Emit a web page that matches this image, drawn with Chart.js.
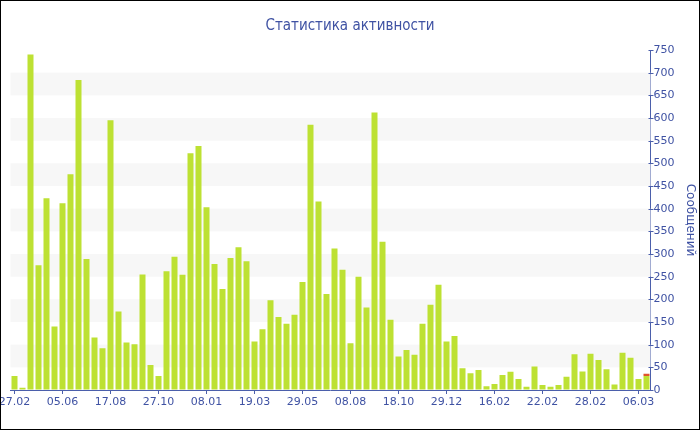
<!DOCTYPE html>
<html>
<head>
<meta charset="utf-8">
<script src="https://cdn.jsdelivr.net/npm/chart.js@4.4.1/dist/chart.umd.min.js"></script>
<style>
  html, body { margin: 0; padding: 0; background: #fff; }
  #wrap { width: 700px; height: 430px; border: 1px solid #000; box-sizing: border-box; position: relative; }
  canvas { display: block; }
</style>
</head>
<body>
<div id="wrap"><canvas id="c" width="698" height="428"></canvas></div>
<script>
// Tick labels shown every 6th category
const tickLabels = ['27.02','05.06','17.08','27.10','08.01','19.03','29.05','08.08','18.10','29.12','16.02','22.02','28.02','06.03'];
const labelEvery = 6;

// Messages per period (main series)
const messages = [
  31, 5, 740, 275, 423, 140, 412, 476, 684, 289,
  116, 92, 595, 173, 105, 101, 255, 55, 31, 262,
  294, 254, 522, 538, 403, 278, 223, 291, 315, 284,
  107, 134, 198, 161, 146, 166, 238, 585, 416, 212,
  312, 265, 103, 250, 182, 612, 327, 155, 74, 88,
  78, 146, 188, 232, 107, 119, 48, 37, 44, 8,
  13, 33, 40, 24, 7, 52, 11, 7, 11, 29,
  79, 41, 80, 66, 46, 12, 82, 71, 24, 31
];
// Second stacked series (only the latest period)
const extra = new Array(messages.length).fill(0);
extra[extra.length - 1] = 5;

const categories = messages.map((_, i) => (i % labelEvery === 0 ? (tickLabels[i / labelEvery] || '') : ''));

const TEXT = '#3f52a3';
const LINE = '#4b5fab';

const bandsPlugin = {
  id: 'bands',
  beforeDatasetsDraw(chart) {
    const { ctx, chartArea, scales } = chart;
    const y = scales.y;
    ctx.save();
    ctx.fillStyle = '#f7f7f7';
    for (let v = 50; v < 750; v += 100) {
      const top = y.getPixelForValue(v + 50);
      const bot = y.getPixelForValue(v);
      ctx.fillRect(chartArea.left, top, chartArea.right - chartArea.left, bot - top);
    }
    ctx.restore();
  },
  afterDraw(chart) {
    const { ctx, scales } = chart;
    const y = scales.y;
    const ax = Math.round(y.left) + 0.5;
    ctx.save();
    ctx.strokeStyle = LINE;
    ctx.lineWidth = 1;
    y.ticks.forEach(t => {
      const py = Math.round(y.getPixelForValue(t.value)) + 0.5;
      const major = t.value % 50 === 0;
      ctx.beginPath();
      ctx.moveTo(ax - 3, py);
      ctx.lineTo(major ? ax + 2 : ax, py);
      ctx.stroke();
    });
    ctx.restore();
  }
};

new Chart(document.getElementById('c'), {
  type: 'bar',
  data: {
    labels: categories,
    datasets: [
      { label: 'Сообщений', data: messages, backgroundColor: '#bde133', barPercentage: 0.75, categoryPercentage: 1 },
      { label: 'Новые', data: extra, backgroundColor: '#e0542c', barPercentage: 0.75, categoryPercentage: 1 }
    ]
  },
  plugins: [bandsPlugin],
  options: {
    responsive: false,
    animation: false,
    layout: { padding: 0 },
    plugins: {
      legend: { display: false },
      tooltip: { enabled: false },
      title: {
        display: true,
        text: 'Статистика активности',
        color: TEXT,
        font: { family: 'DejaVu Sans Condensed', size: 15, weight: 'normal' },
        padding: { top: 16, bottom: 15 }
      }
    },
    scales: {
      x: {
        stacked: true,
        grid: {
          offset: false,
          drawTicks: true,
          tickLength: 4,
          color: ctx => (ctx.index % labelEvery === 0 ? 'rgba(255,255,255,0.9)' : 'rgba(0,0,0,0)'),
          tickColor: ctx => (ctx.index % labelEvery === 0 ? LINE : 'rgba(0,0,0,0)')
        },
        border: { display: true, color: LINE, width: 1 },
        ticks: {
          autoSkip: false,
          maxRotation: 0,
          minRotation: 0,
          padding: 2,
          color: TEXT,
          font: { family: 'DejaVu Sans', size: 11 }
        },
        afterFit(s) { s.height = 39; s.paddingLeft = 0; s.paddingRight = 0; }
      },
      y: {
        stacked: true,
        position: 'right',
        min: 0,
        max: 750,
        grid: { drawOnChartArea: false, drawTicks: false },
        border: { display: true, color: LINE, width: 1 },
        ticks: {
          stepSize: 25,
          padding: 3,
          color: TEXT,
          font: { family: 'DejaVu Sans', size: 11 },
          callback: v => (v % 50 === 0 ? String(v) : '')
        },
        title: {
          display: true,
          text: 'Сообщений',
          color: TEXT,
          font: { family: 'DejaVu Sans', size: 12 },
          padding: { top: 2, bottom: 0 }
        },
        afterFit(s) { s.width = 48.5; s.paddingTop = 0; s.paddingBottom = 0; }
      },
      // invisible spacer axis on the left, keeps the title centred on the whole canvas
      yLeft: {
        position: 'left',
        display: true,
        min: 0,
        max: 750,
        grid: { display: false, drawTicks: false },
        border: { display: false },
        ticks: { display: false },
        afterFit(s) { s.width = 9.5; s.paddingTop = 0; s.paddingBottom = 0; }
      }
    }
  }
});
</script>
</body>
</html>
